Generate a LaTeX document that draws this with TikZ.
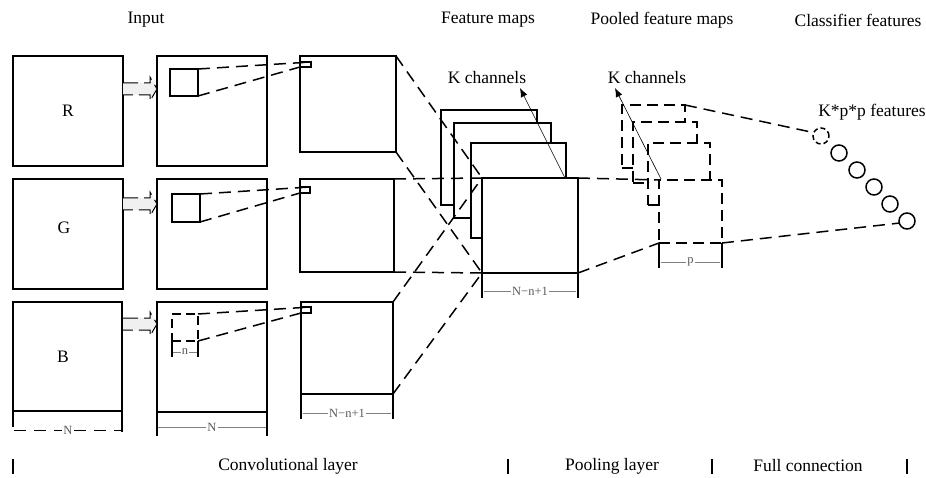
\documentclass[tikz,border=0pt]{standalone}
\usepackage{fontspec}
\setmainfont{Liberation Serif}
\usetikzlibrary{arrows.meta,calc}
\begin{document}
\begin{tikzpicture}[x=1pt,y=-1pt,
  box/.style={draw, line width=1.5pt, fill=white, inner sep=0pt, outer sep=0pt},
  dbox/.style={box, dash pattern=on 11pt off 6pt},
  conn/.style={line width=1.5pt, dash pattern=on 12pt off 7pt},
  tick/.style={line width=1.5pt},
  dimline/.style={line width=0.6pt, draw=gray},
  dimlbl/.style={font=\fontsize{12.5}{12.5}\selectfont, text=gray!70!black, fill=white, inner sep=1pt},
  lbl/.style={font=\fontsize{17.5}{18}\selectfont, inner sep=0pt},
  garrow/.style={fill=gray!12, draw=black, line width=1pt, dash pattern=on 15pt off 6pt},
  karrow/.style={line width=0.6pt, -{Latex[length=9pt,width=7pt]}},
  feat/.style={draw, circle, line width=1.5pt, minimum size=16pt, inner sep=0pt, outer sep=0pt}
]
\useasboundingbox (0,0) rectangle (926,478);

% titles
\node[lbl] (tIn) at (146,20) {Input};
\node[lbl] (tFM) at (488,20) {Feature maps};
\node[lbl] (tPF) at (662,20) {Pooled feature maps};
\node[lbl] (tCF) at (858,20) {Classifier features};

% input squares
\node[box, minimum width=110, minimum height=110] (R) at (68,111) {};
\node[box, minimum width=110, minimum height=110] (G) at (68,234) {};
\node[box, minimum width=109, minimum height=109] (B) at (67.5,356.5) {};
\node[lbl] (lR) at (68,111) {R};
\node[lbl] (lG) at (64,228) {G};
\node[lbl] (lB) at (63,357) {B};

% second column
\node[box, minimum width=110, minimum height=110] (R2) at (212,111) {};
\node[box, minimum width=110, minimum height=110] (G2) at (212,234) {};
\node[box, minimum width=110, minimum height=110] (B2) at (212,357) {};

% third column
\node[box, minimum width=96, minimum height=96] (R3) at (348,104) {};
\node[box, minimum width=94, minimum height=93] (G3) at (347,225.5) {};
\node[box, minimum width=92, minimum height=92] (B3) at (347,348) {};

% gray arrows
\foreach \dy in {0,115,235} {
  \draw[garrow] (123,83+\dy) -- (150,83+\dy) -- (150,77+\dy) -- (157,89+\dy) -- (150,101+\dy) -- (150,95+\dy) -- (123,95+\dy);
}

% kernels and receptive spots
\node[box, minimum width=28, minimum height=27] (KR) at (184,82.5) {};
\node[box, minimum width=28, minimum height=28] (KG) at (186,208) {};
\node[box, dash pattern=on 9pt off 5pt, minimum width=26, minimum height=27] (KB) at (185,327.5) {};
\node[box, line width=1.2pt, minimum width=11, minimum height=5] (sR) at (305.5,64.5) {};
\node[box, line width=1.2pt, minimum width=10, minimum height=6] (sG) at (305,190) {};
\node[box, line width=1.2pt, minimum width=10, minimum height=6] (sB) at (306,310) {};

\draw[conn] (KR.north east) -- (sR.north east);
\draw[conn] (KR.south east) -- (sR.south west);
\draw[conn] (KG.north east) -- (sG.north east);
\draw[conn] (KG.south east) -- (sG.south west);
\draw[conn] (KB.north east) -- (sB.north east);
\draw[conn] (KB.south east) -- (sB.south west);

% n dimension
\draw[tick] (KB.south west) -- ++(0,16) coordinate (nL);
\draw[tick] (KB.south east) -- ++(0,16) coordinate (nR);
\draw[dimline] (173,352) -- (197,352);
\node[dimlbl, inner sep=0.5pt] (ln) at (185,352) {n};

% feature maps
\node[box, minimum width=96, minimum height=95] (F1) at (489,157.5) {};
\node[box, minimum width=97, minimum height=95] (F2) at (502.5,170.5) {};
\node[box, minimum width=95, minimum height=95] (F3) at (518.5,190.5) {};
\node[box, minimum width=96, minimum height=95] (F4) at (530,225.5) {};

% pooled maps
\node[dbox, minimum width=63, minimum height=63] (P1) at (653.5,136.5) {};
\node[dbox, minimum width=64, minimum height=61] (P2) at (665,152.5) {};
\node[dbox, minimum width=62, minimum height=62] (P3) at (679,174) {};
\node[dbox, minimum width=63, minimum height=63] (P4) at (690.5,211.5) {};

% conv to feature map connectors
\foreach \s in {R3,G3,B3} {
  \draw[conn] (\s.north east) -- (F4.north west);
  \draw[conn] (\s.south east) -- (F4.south west);
}
% feature map to pooled
\draw[conn] (F4.north east) -- (P4.north west);
\draw[conn] (F4.south east) -- (P4.south west);

% classifier features
\node[feat, dash pattern=on 5pt off 3pt] (C1) at (821,136) {};
\node[feat] (C2) at (839,153) {};
\node[feat] (C3) at (857,170) {};
\node[feat] (C4) at (874,187) {};
\node[feat] (C5) at (890,204) {};
\node[feat] (C6) at (907,221) {};
\draw[conn] (P1.north east) -- (C1.155);
\draw[conn] (P4.south east) -- (C6.195);
\node[lbl] (tK) at (872,112) {K*p*p features};

% K channels
\node[lbl] (K1) at (487,78) {K channels};
\coordinate (k1s) at (565,178);
\coordinate (k1e) at (520,88);
\draw[karrow] (k1s) -- (k1e);
\node[lbl] (K2) at (647,78) {K channels};
\coordinate (k2s) at (661,179);
\coordinate (k2e) at (615,88);
\draw[karrow] (k2s) -- (k2e);

% dimensions under squares
\draw[tick] (B.south west) -- ++(0,16);
\draw[tick] (B.south east) -- ++(0,21);
\draw[line width=0.9pt, dash pattern=on 12pt off 8pt] (14,430) -- (122,430);
\node[dimlbl] (dN1) at (68,430) {N};

\draw[tick] (B2.south west) -- ++(0,24);
\draw[tick] (B2.south east) -- ++(0,24);
\draw[dimline] (158,427) -- (266,427);
\node[dimlbl] (dN2) at (212,427) {N};

\draw[tick] (B3.south west) -- ++(0,25);
\draw[tick] (B3.south east) -- ++(0,25);
\draw[dimline] (303,413) -- (391,413);
\node[dimlbl] (dN3) at (347,413) {N−n+1};

\draw[tick] (F4.south west) -- ++(0,25);
\draw[tick] (F4.south east) -- ++(0,25);
\draw[dimline] (484,291) -- (576,291);
\node[dimlbl] (dN4) at (530,291) {N−n+1};

\draw[tick] (P4.south west) -- ++(0,25);
\draw[tick] (P4.south east) -- ++(0,25);
\draw[dimline] (661,262) -- (720,262);
\node[dimlbl] (dp) at (690.5,262) {p};

% bottom section bars and labels
\draw[tick] (13,459) -- (13,474);
\draw[tick] (508,459) -- (508,474);
\draw[tick] (712,459) -- (712,474);
\draw[tick] (907,459) -- (907,474);
\node[lbl] (bConv) at (288,466) {Convolutional layer};
\node[lbl] (bPool) at (612,466) {Pooling layer};
\node[lbl] (bFull) at (808,466) {Full connection};
\end{tikzpicture}
\end{document}
